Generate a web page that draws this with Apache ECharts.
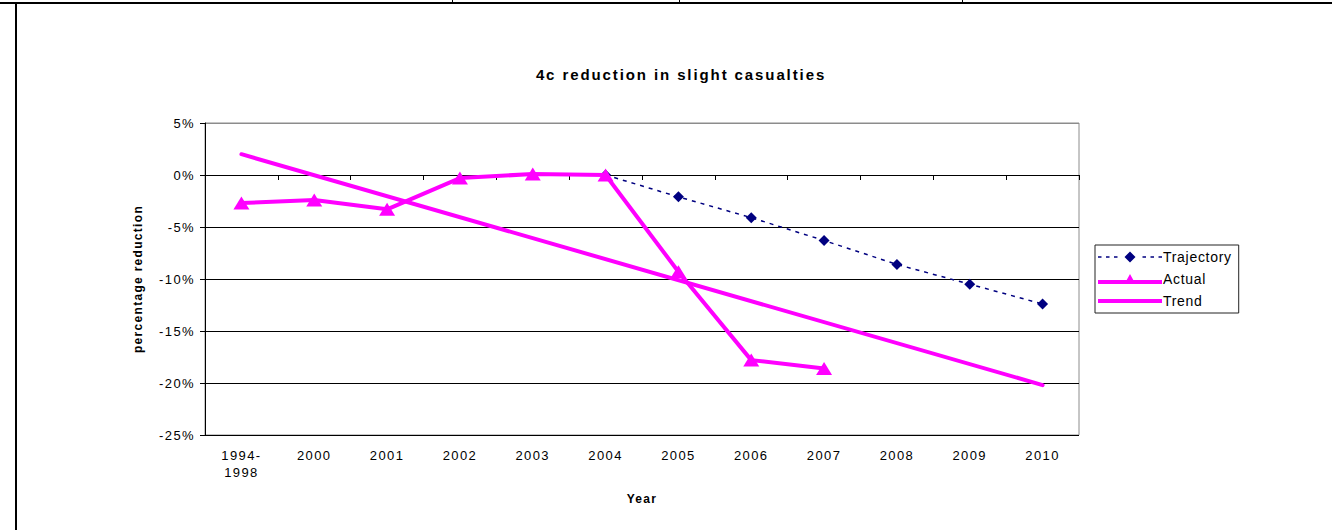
<!DOCTYPE html>
<html>
<head>
<meta charset="utf-8">
<title>4c reduction in slight casualties</title>
<script src="https://cdn.jsdelivr.net/npm/echarts@6/dist/echarts.min.js"></script>
<style>
  html, body { margin: 0; padding: 0; background: #fff; }
  #chart { width: 1332px; height: 530px; }
</style>
</head>
<body>
<div id="chart"></div>
<script>
// Categories along the x axis
const years = ['1994-\n1998', '2000', '2001', '2002', '2003', '2004', '2005', '2006', '2007', '2008', '2009', '2010'];

// Percentage reduction values (null = no value for that year)
const trajectory = [null, null, null, null, null, 0.0, -2.1, -4.1, -6.3, -8.6, -10.5, -12.4];
const actual = [-2.7, -2.4, -3.3, -0.3, 0.1, 0.0, -9.3, -17.8, -18.6, null, null, null];
// Linear trend: a straight line between its two end values
const trend = [2.0, null, null, null, null, null, null, null, null, null, null, -20.2];

// Y axis range and step
const yMin = -25;
const yMax = 5;
const yStep = 5;

const FONT = '"Liberation Sans", Arial, Helvetica, sans-serif';
const MAGENTA = '#ff00ff';
const NAVY = '#000080';

// Legend keys: dashed line with diamond, thick line with triangle, thick line
const ICON_TRAJECTORY = 'path://M0,4.7h3.5v1.6h-3.5Z M8,4.7h3.5v1.6h-3.5Z M16,4.7h3.5v1.6h-3.5Z ' +
  'M26.5,5.5L32,0L37.5,5.5L32,11Z M44.5,4.7h3.5v1.6h-3.5Z M52.5,4.7h3.5v1.6h-3.5Z M60.5,4.7h3.5v1.6h-3.5Z';
const ICON_ACTUAL = 'path://M0,6h64v4h-64Z M26.5,10L32,0L37.5,10Z';
const ICON_TREND = 'path://M0,0h64v4h-64Z';

// Letter spacing (px) per font size, for the widely tracked chart lettering
const TRACKING = { 15: 1.9, 14: 0.7, 13: 1.4, 12: 1.3 };

const chart = echarts.init(document.getElementById('chart'), null, { renderer: 'svg' });

chart.setOption({
  backgroundColor: '#ffffff',
  animation: false,
  textStyle: { fontFamily: FONT, color: '#000' },
  title: {
    text: '4c reduction in slight casualties',
    left: 676,
    textAlign: 'center',
    top: 62,
    textStyle: { fontFamily: FONT, fontSize: 15, fontWeight: 'bold', color: '#000' }
  },
  legend: {
    orient: 'vertical',
    left: 1095,
    top: 245,
    padding: [5, 14, 5, 3],
    itemGap: 8,
    itemWidth: 64,
    itemHeight: 14,
    symbolKeepAspect: true,
    borderColor: '#222',
    borderWidth: 1,
    backgroundColor: '#fff',
    itemStyle: { borderWidth: 0 },
    textStyle: { fontFamily: FONT, fontSize: 14, color: '#000', padding: [0, 0, 0, -4] },
    data: [
      { name: 'Trajectory', icon: ICON_TRAJECTORY },
      { name: 'Actual', icon: ICON_ACTUAL },
      { name: 'Trend', icon: ICON_TREND }
    ]
  },
  grid: {
    left: 205,
    right: 253,
    top: 123,
    bottom: 95,
    show: true,
    borderColor: '#8c8c8c',
    borderWidth: 1,
    backgroundColor: '#fff',
    containLabel: false
  },
  xAxis: {
    type: 'category',
    data: years,
    boundaryGap: true,
    name: 'Year',
    nameLocation: 'middle',
    nameGap: 58,
    nameTextStyle: { fontFamily: FONT, fontSize: 12, fontWeight: 'bold', color: '#000' },
    axisLine: { lineStyle: { color: '#000', width: 1 } },
    axisTick: { show: true, alignWithLabel: false, length: 5, lineStyle: { color: '#000' } },
    axisLabel: { interval: 0, fontFamily: FONT, fontSize: 13, color: '#000', margin: 12, lineHeight: 17 },
    splitLine: { show: false }
  },
  yAxis: {
    type: 'value',
    min: yMin,
    max: yMax,
    interval: yStep,
    name: 'percentage reduction',
    nameLocation: 'middle',
    nameGap: 61,
    nameRotate: 90,
    nameTextStyle: { fontFamily: FONT, fontSize: 12, fontWeight: 'bold', color: '#000' },
    axisLine: { show: true, lineStyle: { color: '#000', width: 1 } },
    axisTick: { show: true, length: 5, lineStyle: { color: '#000' } },
    axisLabel: { formatter: '{value}%', fontFamily: FONT, fontSize: 13, color: '#000', margin: 10 },
    splitLine: {
      show: true,
      lineStyle: { color: ['#000', '#000', '#000', '#000', '#000', '#000', '#8c8c8c'], width: 1 }
    }
  },
  series: [
    {
      name: 'Trajectory',
      type: 'line',
      data: trajectory,
      z: 3,
      symbol: 'diamond',
      symbolSize: 11,
      itemStyle: { color: NAVY },
      lineStyle: { color: NAVY, width: 1.5, type: [4, 5] }
    },
    {
      name: 'Actual',
      type: 'line',
      data: actual,
      z: 4,
      symbol: 'triangle',
      symbolSize: [16, 13],
      itemStyle: { color: MAGENTA },
      lineStyle: { color: MAGENTA, width: 4 }
    },
    {
      name: 'Trend',
      type: 'line',
      data: trend,
      connectNulls: true,
      z: 2,
      showSymbol: false,
      symbol: 'none',
      itemStyle: { color: MAGENTA },
      lineStyle: { color: MAGENTA, width: 4, cap: 'round' }
    }
  ],
  graphic: [
    // Surrounding page frame
    { type: 'line', shape: { x1: 0, y1: 3, x2: 1332, y2: 3 }, style: { stroke: '#000', lineWidth: 2 }, silent: true },
    { type: 'line', shape: { x1: 16, y1: 3, x2: 16, y2: 530 }, style: { stroke: '#000', lineWidth: 2 }, silent: true },
    { type: 'line', shape: { x1: 452.5, y1: 0, x2: 452.5, y2: 3 }, style: { stroke: '#000', lineWidth: 1 }, silent: true },
    { type: 'line', shape: { x1: 679.5, y1: 0, x2: 679.5, y2: 3 }, style: { stroke: '#000', lineWidth: 1 }, silent: true },
    { type: 'line', shape: { x1: 962.5, y1: 0, x2: 962.5, y2: 3 }, style: { stroke: '#000', lineWidth: 1 }, silent: true }
  ]
});

// Apply letter spacing to the rendered SVG text according to its font size
function applyTracking() {
  document.querySelectorAll('#chart text').forEach(function (t) {
    const size = Math.round(parseFloat(getComputedStyle(t).fontSize));
    if (TRACKING[size] !== undefined) {
      t.style.letterSpacing = TRACKING[size] + 'px';
    }
  });
}
chart.on('finished', applyTracking);
applyTracking();
setTimeout(applyTracking, 0);
</script>
</body>
</html>
